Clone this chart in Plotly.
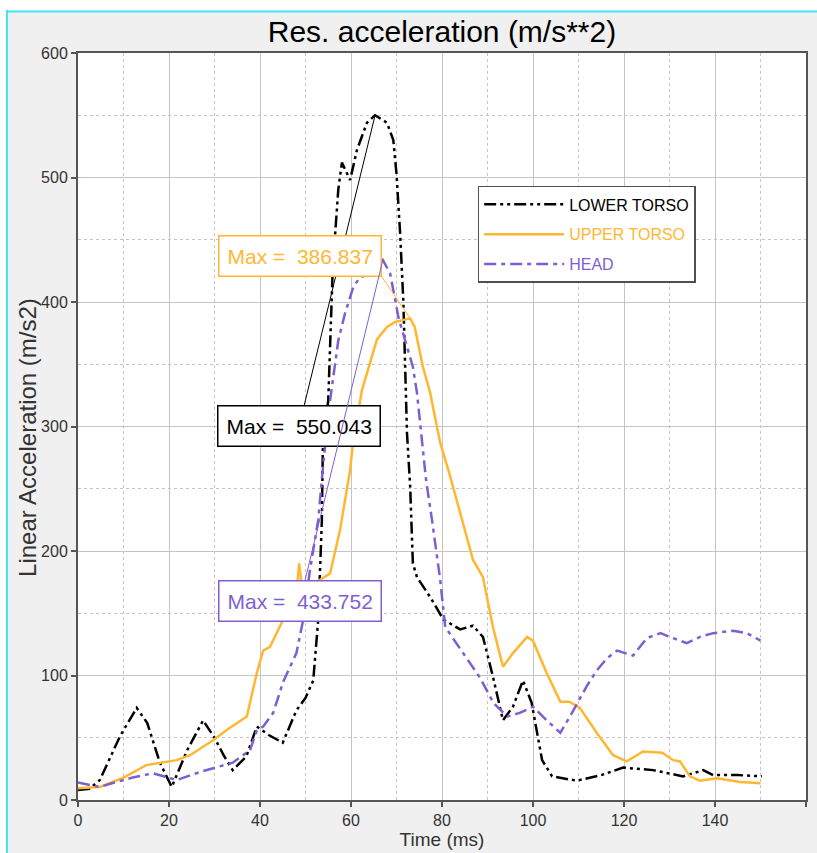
import plotly.graph_objects as go

# ---------------- data ----------------
lower_t = [0, 2.5, 4.8, 9.2, 12.9, 15.2, 18, 20.6, 24, 27.5, 30, 32, 34, 37, 39.3, 42, 45, 48, 50,
           51.7, 52.8, 53.2, 53.6, 53.8, 55, 56, 57.2, 58, 59.8, 61.3, 63.5, 65.3, 67.9, 69.3, 70,
           70.8, 71.5, 71.9, 72.3, 73, 73.6, 74.5, 77.4, 80.3, 84, 86.8, 89, 91.2, 93.4, 95.6, 97.8,
           99.7, 102, 104.2, 109.6, 115, 119.8, 126.4, 133, 137.4, 139.6, 145, 150.3]
lower_v = [8, 9, 16, 51, 74, 62, 30, 10.5, 40, 64, 50, 36, 24, 35, 59, 52, 46, 72, 82,
           96, 145, 185, 225, 281, 321, 428, 490, 512, 498, 522, 544, 550.043, 544, 530, 503,
           455, 401, 348, 295, 252, 190, 179, 163, 145, 137, 140, 131, 99, 64, 75, 96,
           78, 32, 19, 15.5, 20, 26, 24, 19, 24, 20, 20, 19]

upper_t = [0, 4.8, 10, 15, 21.7, 24.6, 29.7, 33, 37.1, 39.3, 40.7, 42.2, 45.1, 48.1, 48.6, 49.2,
           52, 55.4, 57.6, 59.8, 60.5, 62.4, 65.7, 67.9, 69.7, 71.2, 73, 74, 75.8, 77.4, 79.6,
           81.8, 84, 86.8, 89, 91.2, 93.4, 95.6, 98.7, 100, 103, 106, 108, 110.3, 114, 117.6,
           120.6, 124.2, 128.4, 130.8, 132.3, 134.5, 136.7, 140.4, 145.5, 150]
upper_v = [9.5, 10.5, 18, 28, 32, 36, 48, 57, 67, 102, 120, 123, 145, 169, 190, 172,
           174, 182, 217, 265, 289, 329, 370, 380, 384, 385.5, 386.837, 380, 348, 327, 287,
           260, 230, 193, 179, 139, 107, 118, 131, 128, 102, 79, 79, 74, 54, 36,
           31, 39, 38, 32, 31, 19, 15.5, 17.5, 14.5, 13.5]

head_t = [0, 4.8, 8, 12, 16.5, 21.7, 26.8, 34, 37.8, 39.3, 40.7, 42.9, 45.1, 48, 49.5, 51, 52.8,
          53.9, 55.4, 57.2, 58.7, 60.5, 62, 64.6, 67, 68.6, 69.7, 70.4, 72.3, 73.6, 74.5, 75.6,
          76.5, 77.8, 79.6, 80.7, 84.6, 88.4, 91.3, 94.3, 97.1, 100, 103, 106, 108.1, 111.9, 114,
          116.3, 118.5, 122, 125, 128, 130.8, 133.8, 136.7, 139.6, 144, 147, 150]
head_v = [14, 10.5, 14, 18, 21.5, 16, 22.5, 30, 40, 56, 59, 70, 95, 118, 145, 185, 225,
          270, 321, 369, 391, 412, 420, 423, 433.752, 423, 402, 388, 364, 348, 327, 290,
          257, 225, 177, 139, 118, 98, 78, 67, 70, 75, 64, 54, 67, 92, 104,
          114, 120, 116, 130, 134, 130, 126, 131, 134, 136, 134, 128]

names = ["LOWER TORSO", "UPPER TORSO", "HEAD"]
colors = ["#000000", "#FFB732", "#7E5FD2"]
dashes = ["12px,4px,3px,4px,3px,4px", "solid", "12px,5px,4px,5px"]
series = [(lower_t, lower_v), (upper_t, upper_v), (head_t, head_v)]

# annotation box positions (data units of tail) and anchors
label_pos = [(48.6, 300.4, "center", "middle"),
             (66.8, 420.1, "right", "bottom"),
             (48.8, 160.0, "center", "middle")]

FONT = "Liberation Sans, Arial, sans-serif"

fig = go.Figure()
for (t, v), n, c, d in zip(series, names, colors, dashes):
    fig.add_trace(go.Scatter(
        x=t, y=v, mode="lines", name=f'<span style="color:{c}">{n}</span>',
        legendgroup=n, line=dict(color=c, width=2.5, dash=d)))

for (t, v), c, (ax, ay, xa, ya) in zip(series, colors, label_pos):
    i = max(range(len(v)), key=lambda k: v[k])
    fig.add_annotation(
        x=t[i], y=v[i], xref="x", yref="y",
        ax=ax, ay=ay, axref="x", ayref="y",
        xanchor=xa, yanchor=ya,
        text=f"Max =&nbsp; {v[i]:.3f}", showarrow=True, arrowhead=0,
        arrowwidth=1, arrowcolor=c, standoff=0,
        font=dict(family=FONT, size=21, color=c),
        bgcolor="white", bordercolor=c, borderwidth=1.5, borderpad=8)

# y-axis title as rotated text
fig.add_annotation(text="Linear Acceleration (m/s2)", xref="paper", yref="paper",
                   x=-0.0687, y=0.486, xanchor="center", yanchor="middle",
                   textangle=-90, showarrow=False,
                   font=dict(family=FONT, size=24, color="#333333"))

# window border (white strips + cyan line)
fig.add_shape(type="rect", xref="paper", yref="paper", x0=-0.12, x1=-0.0989,
              y0=-0.08, y1=1.08, fillcolor="white", line_width=0, layer="below")
fig.add_shape(type="rect", xref="paper", yref="paper", x0=-0.12, x1=1.03,
              y0=1.0562, y1=1.08, fillcolor="white", line_width=0, layer="below")
fig.add_shape(type="line", xref="paper", yref="paper", x0=-0.0975, x1=-0.0975,
              y0=-0.08, y1=1.0575, line=dict(color="#3EE6F0", width=2))
fig.add_shape(type="line", xref="paper", yref="paper", x0=-0.0985, x1=1.03,
              y0=1.0555, y1=1.0555, line=dict(color="#3EE6F0", width=2))

axis_common = dict(
    showline=True, linecolor="#555555", linewidth=2, mirror=True,
    ticks="outside", ticklen=5, tickcolor="#555555", tickwidth=1.5,
    showgrid=True, gridcolor="#C4C4C4", gridwidth=1.2,
    tickfont=dict(family=FONT, size=16, color="#333333"),
    zeroline=False, automargin=False,
)

fig.update_layout(
    width=817, height=853,
    margin=dict(l=78, r=11, t=53, b=53),
    paper_bgcolor="#F0F0F0", plot_bgcolor="white",
    title=dict(text="Res. acceleration (m/s**2)", x=0.5, xref="paper", xanchor="center",
               y=1 - 31 / 853, yref="container", yanchor="middle",
               font=dict(family=FONT, size=30, color="#000000")),
    xaxis=dict(range=[0, 160], dtick=20, tick0=0,
               title=dict(text="Time (ms)", font=dict(family=FONT, size=19, color="#333333"),
                          standoff=2),
               minor=dict(dtick=10, showgrid=True, gridcolor="#C4C4C4",
                          griddash="dot", gridwidth=1),
               **axis_common),
    yaxis=dict(range=[0, 600], dtick=100, tick0=0,
               minor=dict(dtick=50, showgrid=True, gridcolor="#C4C4C4",
                          griddash="dot", gridwidth=1),
               **axis_common),
    legend=dict(x=0.549, y=0.822, xanchor="left", yanchor="top",
                bgcolor="white", bordercolor="#505050", borderwidth=1.5,
                font=dict(family=FONT, size=16, color="#000000"),
                itemwidth=80, traceorder="grouped", tracegroupgap=6),
    showlegend=True,
)

fig.write_html("out.html", config={"displayModeBar": False},
               post_script="document.body.style.margin='0px';")
